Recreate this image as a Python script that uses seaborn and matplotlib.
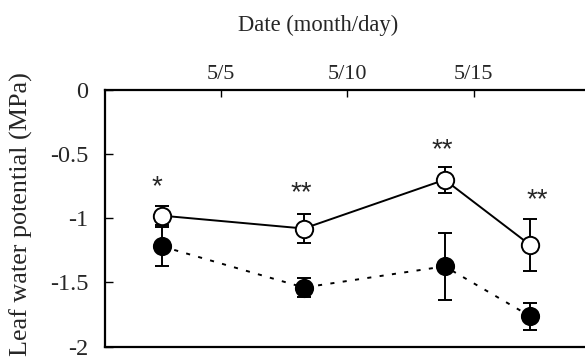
import matplotlib
matplotlib.use("Agg")
import matplotlib.pyplot as plt
import seaborn as sns
import pandas as pd

# Sampling days (day of May) and leaf water potential, mean and error
days = [2.68, 8.28, 13.85, 17.24]
open_mean = [-0.98, -1.08, -0.70, -1.21]
open_err = [0.075, 0.115, 0.10, 0.205]
filled_mean = [-1.22, -1.54, -1.375, -1.765]
filled_err = [0.15, 0.075, 0.26, 0.105]
signif = ["*", "**", "**", "**"]
tick_days = [5, 10, 15]
tick_labels = ["5/5", "5/10", "5/15"]

sns.set_style("ticks")
plt.rcParams["font.family"] = ["Liberation Serif", "DejaVu Serif"]

fig = plt.figure(figsize=(5.85, 3.59), dpi=100)
ax = fig.add_axes([0.1795, 0.0348, 0.8205, 0.7145])

df_open = pd.DataFrame({"day": days, "psi": open_mean})
df_filled = pd.DataFrame({"day": days, "psi": filled_mean})

ax.errorbar(days, filled_mean, yerr=filled_err, fmt="none", ecolor="black",
            elinewidth=1.4, capsize=5, capthick=1.4, zorder=2)
ax.errorbar(days, open_mean, yerr=open_err, fmt="none", ecolor="black",
            elinewidth=1.4, capsize=5, capthick=1.4, zorder=2)

sns.lineplot(data=df_filled, x="day", y="psi", ax=ax, color="black",
             linewidth=1.4, linestyle=(0, (2.1, 4.3)), marker="o", markersize=12.5,
             markerfacecolor="black", markeredgecolor="black",
             markeredgewidth=1.3, zorder=3)
sns.lineplot(data=df_open, x="day", y="psi", ax=ax, color="black",
             linewidth=1.4, marker="o", markersize=12.5,
             markerfacecolor="white", markeredgecolor="black",
             markeredgewidth=1.4, zorder=4)

# Significance marks above each sampling day
star_pos = [(2.46, -0.815), (8.19, -0.860), (13.75, -0.527), (17.53, -0.912)]
for (sx, sy), s in zip(star_pos, signif):
    ax.text(sx, sy, s, ha="center", va="baseline", fontsize=20,
            family=["Liberation Sans", "DejaVu Sans"])

ax.set_xlim(0.415, 19.4)
ax.set_ylim(-2, 0)
ax.set_yticks([0, -0.5, -1, -1.5, -2])
ax.set_yticklabels(["0", "-0.5", "-1", "-1.5", "-2"])
ax.xaxis.tick_top()
ax.xaxis.set_label_position("top")
ax.set_xticks(tick_days)
ax.set_xticklabels(tick_labels)
ax.set_xlabel("Date (month/day)", fontsize=16.3)
ax.xaxis.set_label_coords(0.4437, 1.23)
ax.set_ylabel("Leaf water potential (MPa)", fontsize=18.8)
ax.yaxis.set_label_coords(-0.15, 0.5166)
ax.tick_params(axis="both", direction="in", width=1.0, color="black")
ax.tick_params(axis="x", length=5, pad=4, labelsize=16)
ax.tick_params(axis="y", length=6, pad=12, labelsize=17.5)
for side in ["left", "top", "bottom"]:
    ax.spines[side].set_linewidth(1.6)
    ax.spines[side].set_color("black")
ax.spines["right"].set_visible(False)

fig.savefig("out.png", dpi=100)
